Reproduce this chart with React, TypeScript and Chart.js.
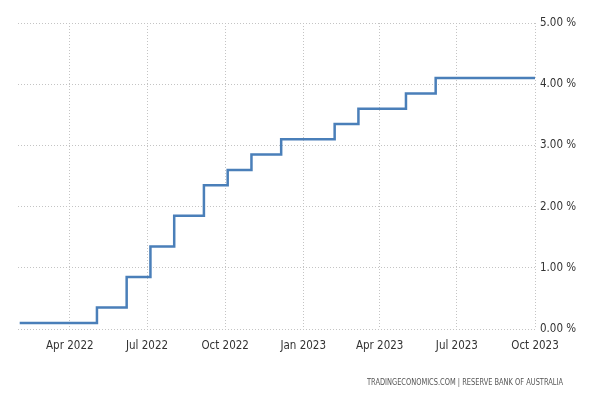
import React, { useEffect, useRef } from "react";
import { Chart, registerables } from "chart.js";

Chart.register(...registerables);

// Decision dates (new rate effective from that date) and cash rate target, %
const rateDates = [
  "2022-02-01", "2022-05-03", "2022-06-07", "2022-07-05", "2022-08-02",
  "2022-09-06", "2022-10-04", "2022-11-01", "2022-12-06", "2023-02-07",
  "2023-03-07", "2023-05-02", "2023-06-06", "2023-10-03",
];
const rateValues = [
  0.10, 0.35, 0.85, 1.35, 1.85, 2.35, 2.60, 2.85, 3.10, 3.35, 3.60, 3.85, 4.10, 4.10,
];

const tickDates = ["2022-04-01", "2022-07-01", "2022-10-01", "2023-01-01", "2023-04-01", "2023-07-01", "2023-10-01"];
const tickLabels = ["Apr 2022", "Jul 2022", "Oct 2022", "Jan 2023", "Apr 2023", "Jul 2023", "Oct 2023"];
const yTicks = [0, 1, 2, 3, 4, 5];

const xMinDate = "2022-01-30";
const xMaxDate = "2023-10-01";

const footerText = "TRADINGECONOMICS.COM | RESERVE BANK OF AUSTRALIA";

const ts = (s: string) => Date.parse(s + "T00:00:00Z");

const FONT_FAMILY = "'DejaVu Sans Condensed', 'Liberation Sans Narrow', 'Arial Narrow', sans-serif";

const footerPlugin = {
  id: "footerText",
  afterDraw(chart: any) {
    const ctx = chart.ctx;
    ctx.save();
    ctx.font = "9px 'DejaVu Sans Condensed', 'Liberation Sans', sans-serif";
    ctx.fillStyle = "#555";
    ctx.textAlign = "right";
    ctx.textBaseline = "middle";
    ctx.fillText(footerText, 563, 383, 196);
    ctx.restore();
  },
};

export default function App() {
  const ref = useRef<HTMLCanvasElement | null>(null);

  useEffect(() => {
    if (!ref.current) return;
    const font = { family: FONT_FAMILY, size: 11.5 };
    const chart = new Chart(ref.current, {
      type: "line",
      data: {
        datasets: [
          {
            data: rateDates.map((d, i) => ({ x: ts(d), y: rateValues[i] })),
            borderColor: "#4a7fb9",
            borderWidth: 2.5,
            pointRadius: 0,
            stepped: "before",
            fill: false,
          },
        ],
      },
      plugins: [footerPlugin],
      options: {
        animation: false,
        responsive: false,
        layout: { padding: { left: 18, right: 0, top: 23, bottom: 0 } },
        plugins: { legend: { display: false }, tooltip: { enabled: false }, title: { display: false } },
        scales: {
          x: {
            type: "linear",
            min: ts(xMinDate),
            max: ts(xMaxDate),
            afterBuildTicks: (scale: any) => {
              scale.ticks = tickDates.map((d) => ({ value: ts(d) }));
            },
            afterFit: (scale: any) => {
              scale.height = 71;
            },
            ticks: {
              autoSkip: false,
              maxRotation: 0,
              padding: 10,
              color: "#333",
              font,
              callback: (_v: any, i: number) => tickLabels[i],
            },
            grid: { color: "#c4c4c4", lineWidth: 1, drawTicks: false },
            border: { display: false, dash: [1, 2] },
          },
          y: {
            position: "right",
            min: 0,
            max: 5,
            afterBuildTicks: (scale: any) => {
              scale.ticks = yTicks.map((v) => ({ value: v }));
            },
            afterFit: (scale: any) => {
              scale.width = 65;
            },
            ticks: {
              padding: 5,
              color: "#333",
              font,
              callback: (v: any) => Number(v).toFixed(2) + " %",
            },
            grid: { color: "#c4c4c4", lineWidth: 1, drawTicks: false },
            border: { display: false, dash: [1, 2] },
          },
        },
      } as any,
    });
    return () => chart.destroy();
  }, []);

  return (
    <div style={{ position: "fixed", left: 0, top: 0, width: 600, height: 400, background: "#fff" }}>
      <canvas ref={ref} width={600} height={400} style={{ width: 600, height: 400, display: "block" }} />
    </div>
  );
}
